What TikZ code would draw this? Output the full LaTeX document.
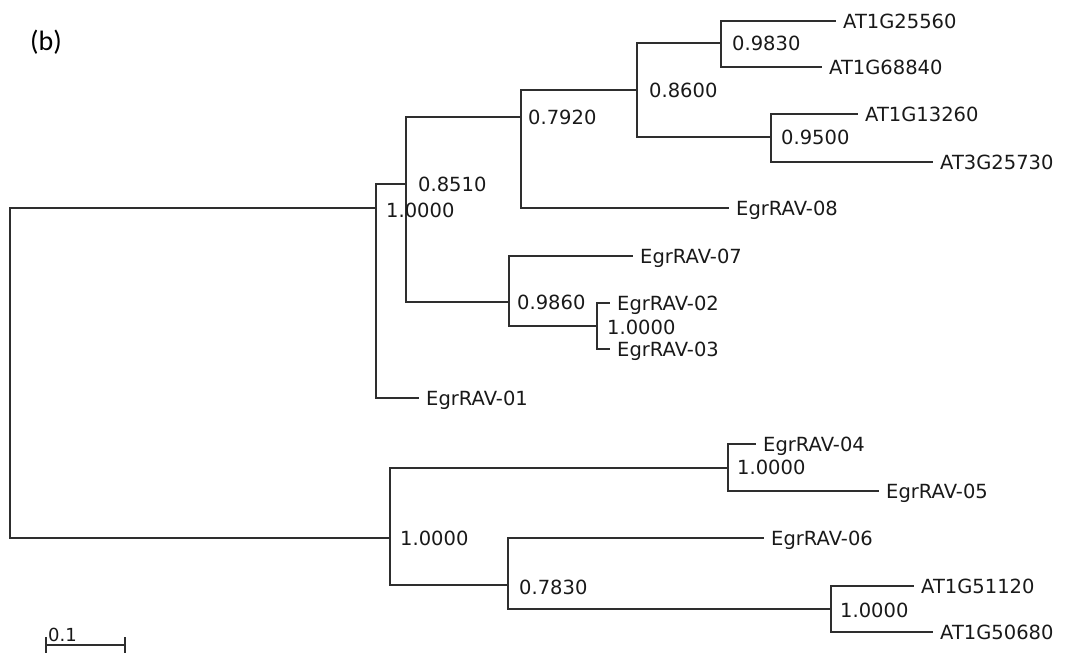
\documentclass[tikz,border=0pt]{standalone}
\usepackage{fontspec}
\newfontfamily\labfont{DejaVu Sans}
\newfontfamily\panelfont{Carlito}
\begin{document}
\begin{tikzpicture}[x=1pt,y=-1pt,
  branch/.style={line width=1.6pt, draw=black!82, line cap=rect},
  leaf/.style={anchor=west, inner xsep=8pt, inner ysep=0pt, text height=14.5pt, text depth=0pt, font=\labfont\fontsize{19.5}{20}\selectfont, text=black!90},
  supp/.style={anchor=west, inner sep=0pt, text height=14.5pt, text depth=0pt, font=\labfont\fontsize{19.5}{20}\selectfont, text=black!90},
  tick/.style={line width=1.6pt, draw=black!82}]
\useasboundingbox (0,0) rectangle (1066,660);
\node[anchor=base west, inner sep=0pt, font=\panelfont\fontsize{28}{30}\selectfont] (panel) at (30,51) {(b)};

% internal node points (x of vertical, y of attachment)
\coordinate (R) at (10,373);
\coordinate (A) at (376,208);
\coordinate (C) at (406,184);
\coordinate (D) at (521,117);
\coordinate (F) at (637,90);
\coordinate (G) at (721,43);
\coordinate (H) at (771,137);
\coordinate (E) at (509,302);
\coordinate (I) at (597,326);
\coordinate (B) at (390,538);
\coordinate (J) at (728,468);
\coordinate (K) at (508,585);
\coordinate (L) at (831,609);

% leaves
\node[leaf] (t1) at (835,21) {AT1G25560};
\node[leaf] (t2) at (821,67) {AT1G68840};
\node[leaf] (t3) at (857,114) {AT1G13260};
\node[leaf] (t4) at (932,162) {AT3G25730};
\node[leaf] (t8) at (728,208) {EgrRAV-08};
\node[leaf] (t7) at (632,256) {EgrRAV-07};
\node[leaf] (t02) at (609,303) {EgrRAV-02};
\node[leaf] (t03) at (609,349) {EgrRAV-03};
\node[leaf] (t01) at (418,398) {EgrRAV-01};
\node[leaf] (t04) at (755,444) {EgrRAV-04};
\node[leaf] (t05) at (878,491) {EgrRAV-05};
\node[leaf] (t06) at (763,538) {EgrRAV-06};
\node[leaf] (t5) at (913,586) {AT1G51120};
\node[leaf] (t6) at (932,632) {AT1G50680};

% verticals
\draw[branch] (R |- A) -- (R |- B);
\draw[branch] (A |- C) -- (A |- t01.west);
\draw[branch] (C |- D) -- (C |- E);
\draw[branch] (D |- F) -- (D |- t8.west);
\draw[branch] (F |- G) -- (F |- H);
\draw[branch] (G |- t1.west) -- (G |- t2.west);
\draw[branch] (H |- t3.west) -- (H |- t4.west);
\draw[branch] (E |- t7.west) -- (E |- I);
\draw[branch] (I |- t02.west) -- (I |- t03.west);
\draw[branch] (B |- J) -- (B |- K);
\draw[branch] (J |- t04.west) -- (J |- t05.west);
\draw[branch] (K |- t06.west) -- (K |- L);
\draw[branch] (L |- t5.west) -- (L |- t6.west);

% horizontals
\draw[branch] (R |- A) -- (A);
\draw[branch] (R |- B) -- (B);
\draw[branch] (A |- C) -- (C);
\draw[branch] (A |- t01.west) -- (t01.west);
\draw[branch] (C |- D) -- (D);
\draw[branch] (C |- E) -- (E);
\draw[branch] (D |- F) -- (F);
\draw[branch] (D |- t8.west) -- (t8.west);
\draw[branch] (F |- G) -- (G);
\draw[branch] (F |- H) -- (H);
\draw[branch] (G |- t1.west) -- (t1.west);
\draw[branch] (G |- t2.west) -- (t2.west);
\draw[branch] (H |- t3.west) -- (t3.west);
\draw[branch] (H |- t4.west) -- (t4.west);
\draw[branch] (E |- t7.west) -- (t7.west);
\draw[branch] (E |- I) -- (I);
\draw[branch] (I |- t02.west) -- (t02.west);
\draw[branch] (I |- t03.west) -- (t03.west);
\draw[branch] (B |- J) -- (J);
\draw[branch] (B |- K) -- (K);
\draw[branch] (J |- t04.west) -- (t04.west);
\draw[branch] (J |- t05.west) -- (t05.west);
\draw[branch] (K |- t06.west) -- (t06.west);
\draw[branch] (K |- L) -- (L);
\draw[branch] (L |- t5.west) -- (t5.west);
\draw[branch] (L |- t6.west) -- (t6.west);

% support values
\node[supp] (sA) at (386,210) {1.0000};
\node[supp] (sC) at (418,184) {0.8510};
\node[supp] (sD) at (528,117) {0.7920};
\node[supp] (sF) at (649,90) {0.8600};
\node[supp] (sG) at (732,43) {0.9830};
\node[supp] (sH) at (781,137) {0.9500};
\node[supp] (sE) at (517,302) {0.9860};
\node[supp] (sI) at (607,327) {1.0000};
\node[supp] (sB) at (400,538) {1.0000};
\node[supp] (sJ) at (737,467) {1.0000};
\node[supp] (sK) at (519,587) {0.7830};
\node[supp] (sL) at (840,610) {1.0000};

% scale bar
\coordinate (s0) at (46,645);
\coordinate (s1) at (125,645);
\draw[tick] (s0) -- (s1);
\draw[tick] ([yshift=8]s0) -- ([yshift=-8]s0);
\draw[tick] ([yshift=8]s1) -- ([yshift=-8]s1);
\node[anchor=base west, inner sep=0pt, font=\labfont\fontsize{18}{18}\selectfont, text=black!90] (sc) at (48,641.5) {0.1};
\end{tikzpicture}
\end{document}
